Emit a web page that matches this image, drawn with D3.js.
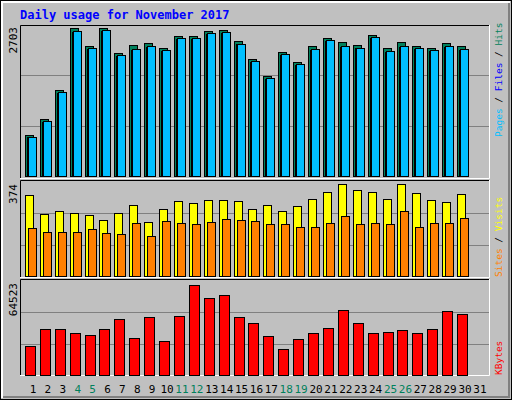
<!DOCTYPE html><html><head><meta charset="utf-8">
<script src="https://cdn.jsdelivr.net/npm/d3@7"></script>
<style>body{margin:0;background:#fff}</style></head><body>
<script>
const days=d3.range(1,32);
const weekend=[4,5,11,12,18,19,25,26];
const hits=[739,1027,1532,2649,2325,2649,2198,2343,2379,2289,2505,2505,2595,2613,2415,2090,1784,2216,2036,2325,2469,2397,2343,2523,2289,2397,2325,2289,2379,2325];
const files=[705,990,1495,2600,2290,2610,2160,2270,2330,2250,2465,2465,2560,2575,2370,2050,1760,2180,2010,2270,2430,2330,2300,2490,2240,2330,2290,2250,2330,2270];
const pages=[690,975,1480,2585,2275,2595,2145,2255,2315,2235,2450,2450,2545,2560,2355,2035,1745,2165,1995,2255,2415,2315,2285,2475,2225,2315,2275,2235,2315,2255];
const sites=[322,247,259,251,243,223,251,283,215,267,299,291,302,302,299,267,283,259,279,306,334,366,342,334,306,366,330,302,295,326];
const visits=[191,175,175,175,187,171,167,211,159,219,211,207,215,227,223,219,207,207,195,195,211,239,207,211,207,259,195,211,211,231];
const kbytes=[19697,31243,31243,28526,27168,31243,38714,25130,40073,23093,40752,61807,52978,55015,40073,35998,26489,17659,24451,28526,31922,44827,35998,28526,29206,30564,28526,31243,44148,42110];
const maxTop=2703,maxMid=374,maxBot=64523;

const W=512,H=400;
const svg=d3.select("body").append("svg").attr("width",W).attr("height",H).style("display","block");
const font="DejaVu Sans Mono, monospace";
svg.append("rect").attr("width",W).attr("height",H).attr("fill","#C0C0C0");
svg.append("rect").attr("x",0.5).attr("y",0.5).attr("width",W-1).attr("height",H-1).attr("fill","none").attr("stroke","#000");
svg.append("path").attr("d","M2,398V2H510").attr("stroke","#fff").attr("stroke-width",2).attr("fill","none");
svg.append("path").attr("d","M3,397H509V3").attr("stroke","#808080").attr("stroke-width",2).attr("fill","none");
svg.append("text").attr("x",20).attr("y",19).text("Daily usage for November 2017")
  .attr("font-family",font).attr("font-weight","bold").attr("font-size",12).attr("fill","#0000FF");

const x=d3.scaleLinear().domain([1,30]).range([25,457]);
const panels=[{t:25,b:176},{t:182,b:276},{t:281,b:375}];
panels.forEach((p,i)=>{
  const top=i==0?25:(i==1?180:279);
  const bot=i==0?179:(i==1?278:376);
  svg.append("rect").attr("x",20).attr("y",top).attr("width",470).attr("height",bot-top).attr("fill","#C0C0C0");
  const y=d3.scaleLinear().domain([0,1]).range([p.b,p.t]);
  [1/3,2/3].forEach(f=>svg.append("line").attr("x1",21).attr("x2",489).attr("y1",Math.round(y(f))+.5).attr("y2",Math.round(y(f))+.5).attr("stroke","#808080"));
  svg.append("path").attr("d",`M20.5,${bot}V${top+.5}H490`).attr("stroke","#000").attr("fill","none");
  svg.append("path").attr("d",`M20,${bot-.5}H489.5V${top}`).attr("stroke","#fff").attr("fill","none");
});
function bars(data,max,p,dx,w,fill){
  const y=d3.scaleLinear().domain([0,max]).range([p.b,p.t]);
  svg.append("g").selectAll("rect").data(data).join("rect")
   .attr("x",(d,i)=>Math.round(x(i+1))+dx+.5).attr("y",d=>Math.round(y(d))+.5)
   .attr("width",w).attr("height",d=>p.b-Math.round(y(d))).attr("fill",fill).attr("stroke","#000");
}
bars(hits,maxTop,panels[0],0,8,"#00805C");
bars(pages,maxTop,panels[0],2,8,"#0000FF");
bars(files,maxTop,panels[0],3,8,"#00BFFF");
bars(sites,maxMid,panels[1],0,8,"#FFFF00");
bars(visits,maxMid,panels[1],3,8,"#FF8000");
bars(kbytes,maxBot,panels[2],0,10,"#FF0000");

function vlabel(xx,yy,t){svg.append("text").attr("transform",`translate(17,${yy}) rotate(-90)`).attr("text-anchor","end")
  .attr("font-family",font).attr("font-size",11).attr("fill","#000").text(t);}
vlabel(17,27,maxTop);vlabel(17,184,maxMid);vlabel(17,283,maxBot);
function rlabel(yy,parts){const t=svg.append("text").attr("transform",`translate(502,${yy}) rotate(-90)`)
  .attr("font-family",font).attr("font-size",9.5);
  parts.forEach(p=>t.append("tspan").attr("fill",p[1]).text(p[0]));}
rlabel(137,[["Pages","#00BFFF"],[" / ","#000"],["Files","#0000FF"],[" / ","#000"],["Hits","#00805C"]]);
rlabel(277,[["Sites","#FF8000"],[" / ","#000"],["Visits","#FFFF00"]]);
rlabel(375,[["KBytes","#FF0000"]]);
svg.append("g").selectAll("text").data(days).join("text")
 .attr("x",d=>x(d)+8).attr("y",393).attr("text-anchor","middle")
 .attr("font-family",font).attr("font-size",11).attr("fill",d=>weekend.includes(d)?"#00805C":"#000").text(d=>d);
</script></body></html>
